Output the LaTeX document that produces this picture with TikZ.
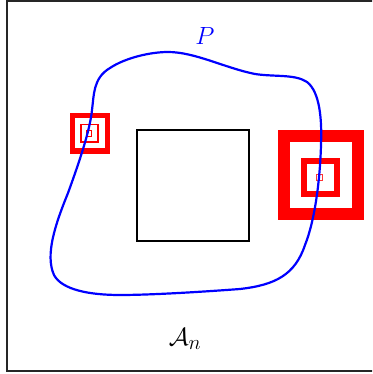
\documentclass[tikz,border=0pt]{standalone}
\begin{document}
\begin{tikzpicture}[x=1pt,y=-1pt,
  frame/.style={draw=black!85,line width=2pt},
  core/.style={draw=black,line width=2.1pt},
  curveP/.style={draw=blue,line width=2.2pt},
  lbl/.style={inner sep=0pt,font=\fontsize{24.88}{30}\selectfont}]
\useasboundingbox (0,0) rectangle (372,374);
\begin{scope}
\clip (0,0) rectangle (372,374);
\draw[frame] (7.4,0.8) rectangle (376,371.4);
\end{scope}
% central square
\draw[core] (137,129.6) rectangle (248.6,240.6);
% left target
\draw[red,line width=5pt] (72.5,116) rectangle (107,151);
\draw[red,line width=1.8pt] (81,124.6) rectangle (98.3,142.3);
\draw[red,line width=0.8pt] (86.6,130.6) rectangle (91.6,136.4);
% right target
\draw[red,line width=12pt] (284.3,136.3) rectangle (358,214);
\draw[red,line width=6pt] (303.7,161) rectangle (336.6,194.3);
\draw[red!80,line width=0.9pt] (316.6,174.6) rectangle (322.8,180.8);
% curve P
\draw[curveP] (92,110) .. controls (94,95) and (93,78) .. (110,68)
  .. controls (125,58) and (150,52) .. (168,52)
  .. controls (195,52) and (225,68) .. (255,74)
  .. controls (275,77) and (295,74) .. (307,82)
  .. controls (320,92) and (322,120) .. (321,145)
  .. controls (320,180) and (315,220) .. (305,245)
  .. controls (295,275) and (275,285) .. (240,289)
  .. controls (200,292) and (150,295) .. (120,295)
  .. controls (90,295) and (62,290) .. (54,275)
  .. controls (45,255) and (55,225) .. (68,193)
  .. controls (80,160) and (90,130) .. (92,110) -- cycle;
\node[lbl,text=blue] (P) at (205,36) {$P$};
\node[lbl] (An) at (185,339) {$\mathcal{A}_n$};
\end{tikzpicture}
\end{document}
